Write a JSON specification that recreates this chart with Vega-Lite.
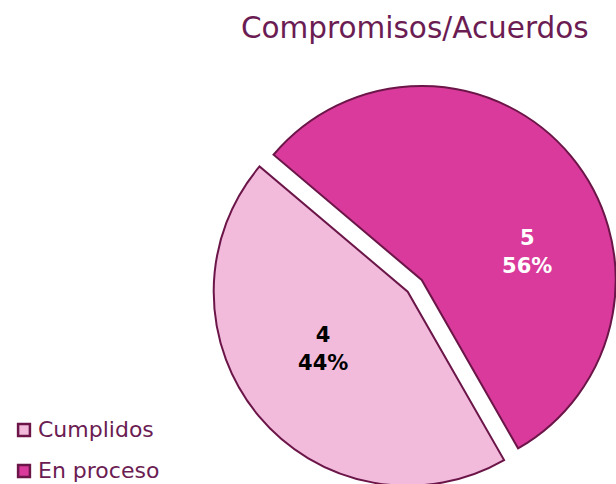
{
  "$schema": "https://vega.github.io/schema/vega-lite/v6.json",
  "width": 616,
  "height": 484,
  "autosize": {"type": "none"},
  "padding": 0,
  "background": "white",
  "config": {"view": {"stroke": null}},
  "title": {
    "text": "Compromisos/Acuerdos",
    "anchor": "end",
    "offset": -44,
    "dx": -31,
    "fontSize": 29.5,
    "fontWeight": "normal",
    "font": "DejaVu Sans",
    "color": "#6b1c52"
  },
  "data": {
    "values": [
      {"estado": "Cumplidos", "valor": 4, "orden": 2, "etiqueta": "4\n44%"},
      {"estado": "En proceso", "valor": 5, "orden": 1, "etiqueta": "5\n56%"}
    ]
  },
  "encoding": {
    "theta": {
      "field": "valor",
      "type": "quantitative",
      "stack": true,
      "scale": {"range": [-0.869, 5.4142]}
    },
    "order": {"field": "orden", "type": "quantitative"}
  },
  "layer": [
    {
      "mark": {
        "type": "arc",
        "outerRadius": 194,
        "stroke": "#6b1548",
        "strokeWidth": 2,
        "x": {"expr": "datum.estado === 'En proceso' ? 421.7 : 407.7"},
        "y": {"expr": "datum.estado === 'En proceso' ? 280 : 291.7"}
      },
      "encoding": {
        "color": {
          "field": "estado",
          "type": "nominal",
          "scale": {"domain": ["Cumplidos", "En proceso"], "range": ["#f2bbdc", "#d93a9b"]},
          "legend": {
            "title": null,
            "orient": "none",
            "legendX": 13,
            "legendY": 419,
            "symbolType": "square",
            "symbolSize": 140,
            "symbolStrokeColor": "#6b1548",
            "symbolStrokeWidth": 2.5,
            "symbolOpacity": 1,
            "labelFontSize": 22,
            "labelFont": "DejaVu Sans",
            "labelColor": "#6b1c52",
            "rowPadding": 19,
            "labelOffset": 3
          }
        }
      }
    },
    {
      "mark": {
        "type": "text",
        "radius": 110,
        "font": "DejaVu Sans",
        "fontWeight": "bold",
        "fontSize": 21,
        "lineBreak": "\n",
        "lineHeight": 28,
        "baseline": "middle",
        "align": "center",
        "x": {"expr": "datum.estado === 'En proceso' ? 421.7 : 407.7"},
        "y": {"expr": "datum.estado === 'En proceso' ? 280 : 291.7"},
        "dx": {"expr": "datum.estado === 'En proceso' ? 21 : 0"},
        "dy": {"expr": "datum.estado === 'En proceso' ? 29 : -26"},
        "fill": {"expr": "datum.estado === 'En proceso' ? 'white' : 'black'"}
      },
      "encoding": {
        "text": {"field": "etiqueta", "type": "nominal"}
      }
    }
  ]
}
